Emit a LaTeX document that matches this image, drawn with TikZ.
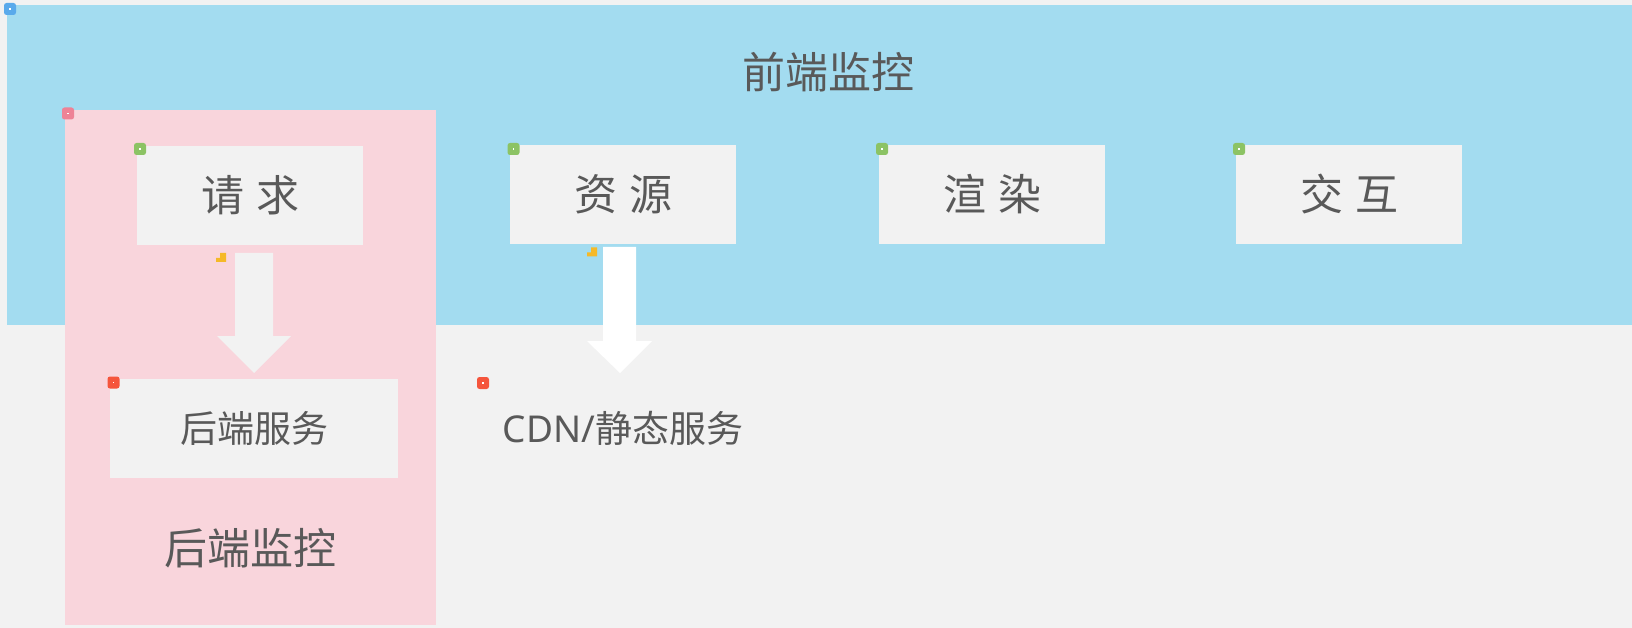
\documentclass[tikz,border=0pt]{standalone}
\usepackage{fontspec}
\setmainfont{Noto Sans CJK SC}
\newfontfamily\latinfont{Noto Sans}
\definecolor{bg}{RGB}{242,242,242}
\definecolor{bluezone}{RGB}{163,220,240}
\definecolor{pinkzone}{RGB}{249,213,220}
\definecolor{boxfill}{RGB}{242,242,242}
\definecolor{txt}{RGB}{89,89,89}
\definecolor{mblue}{RGB}{90,170,235}
\definecolor{mpink}{RGB}{238,130,150}
\definecolor{mgreen}{RGB}{140,195,100}
\definecolor{mred}{RGB}{245,85,60}
\definecolor{myellow}{RGB}{245,185,40}
\tikzset{
  topbox/.style={fill=boxfill, draw=none, minimum width=226pt, minimum height=99pt, inner sep=0pt, text=txt, font=\fontsize{43}{50}\selectfont},
  svcbox/.style={fill=boxfill, draw=none, minimum width=288pt, minimum height=99pt, inner sep=0pt, text=txt, font=\fontsize{37}{44}\selectfont},
  bigtitle/.style={text=txt, inner sep=0pt, font=\fontsize{43}{50}\selectfont},
  midtitle/.style={text=txt, inner sep=0pt, font=\fontsize{37}{44}\selectfont},
  marker/.style={minimum size=12pt, inner sep=0pt, rounded corners=2.5pt, draw=none},
}
\newcommand{\mk}[3]{%
  \node[marker, fill=#1] at (#2,#3) {};
  \fill[white] (#2-0.8,#3-0.8) rectangle (#2+0.8,#3+0.8);
}
\newcommand{\ymk}[2]{%
  \fill[myellow] (#1,#2+9) -- (#1+10,#2+9) -- (#1+10,#2) -- (#1+4,#2) -- (#1+4,#2+5) -- (#1,#2+5) -- cycle;
}
\begin{document}
\begin{tikzpicture}[x=1pt,y=-1pt]
\useasboundingbox (0,0) rectangle (1632,628);
\fill[bg] (0,0) rectangle (1632,628);
% zones
\fill[bluezone] (7,5) rectangle (1632,325);
\fill[pinkzone] (65,110) rectangle (436,625);
\node[bigtitle] (fe) at (828,72) {前端监控};
\node[bigtitle] (be) at (250,548) {后端监控};
% top boxes
\node[topbox] (req) at (250,195.5) {请\hspace{12pt}求};
\node[topbox] (res) at (623,194.5) {资\hspace{12pt}源};
\node[topbox] (ren) at (992,194.5) {渲\hspace{12pt}染};
\node[topbox] (int) at (1349,194.5) {交\hspace{12pt}互};
% lower
\node[svcbox] (svc) at (254,428.5) {后端服务};
\node[midtitle] (cdn) at (623,428) {{\latinfont CDN/}静态服务};
% block arrows
\fill[bg] (235,253) -- (273,253) -- (273,336) -- (291,336) -- (254,373) -- (217,336) -- (235,336) -- cycle;
\fill[white] (603,247) -- (636,247) -- (636,341) -- (652,341) -- (620,373) -- (587,341) -- (603,341) -- cycle;
% markers
\mk{mblue}{10}{9}
\mk{mpink}{68}{113.5}
\mk{mgreen}{140}{149}
\mk{mgreen}{513.5}{149}
\mk{mgreen}{882}{149}
\mk{mgreen}{1239}{149}
\mk{mred}{113.5}{382.5}
\mk{mred}{483}{383}
\ymk{216}{253}
\ymk{587}{247.5}
\end{tikzpicture}
\end{document}
